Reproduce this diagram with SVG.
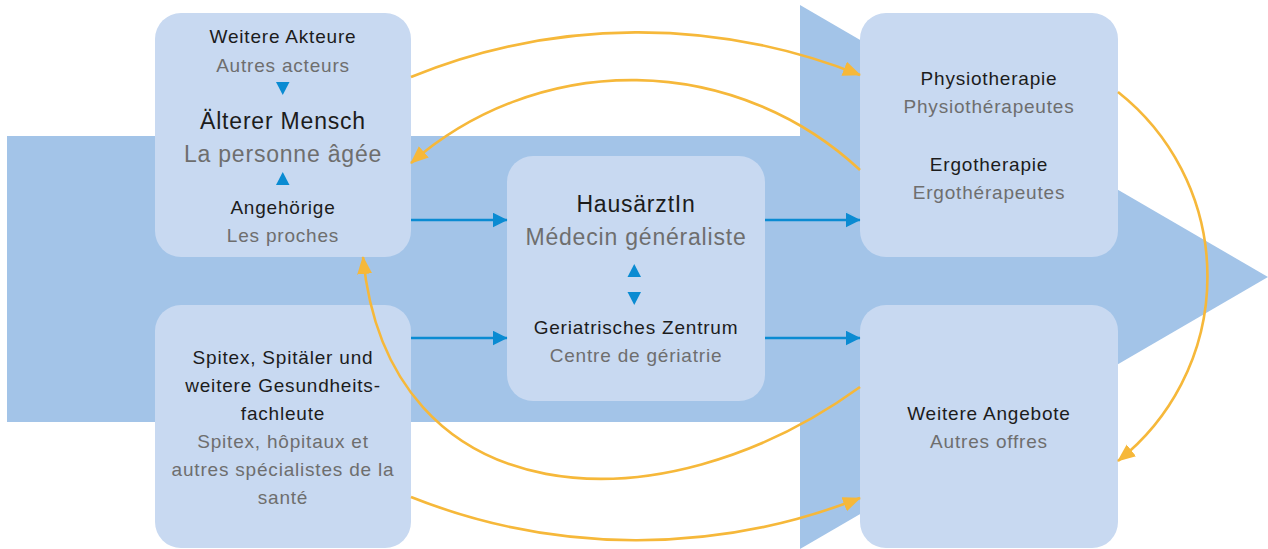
<svg xmlns="http://www.w3.org/2000/svg" width="1268" height="549" viewBox="0 0 1268 549">
<style>
.node{fill:#c8d9f1}
.band{fill:#a3c4e8}
text{font-family:"Liberation Sans",Arial,sans-serif;text-anchor:middle;letter-spacing:0.8px}
.de{fill:#1c1c1c;font-size:19px}
.fr{fill:#6e6e6e;font-size:19px}
.deL{fill:#1c1c1c;font-size:23px}
.frL{fill:#6e6e6e;font-size:23px}
.tri{fill:#0a8bd2}
.blue{stroke:#0a8bd2;stroke-width:2.6;fill:none;marker-end:url(#ab)}
.orange{stroke:#f6b83a;stroke-width:2.6;fill:none;marker-end:url(#ao)}
</style>
<defs>
<marker id="ab" markerUnits="userSpaceOnUse" markerWidth="16" markerHeight="16" refX="14.5" refY="7.5" orient="auto"><path d="M0,0 L15,7.5 L0,15 z" fill="#0a8bd2"/></marker>
<marker id="ao" markerUnits="userSpaceOnUse" markerWidth="19" markerHeight="16" refX="17" refY="7.5" orient="auto"><path d="M0,0 L18,7.5 L0,15 z" fill="#f6b83a"/></marker>
</defs>
<g id="background-arrow">
<rect class="band" x="7" y="136" width="800" height="286"/>
<polygon class="band" points="800,5 1268,277 800,549"/>
</g>
<g id="node-aelterer-mensch">
<rect class="node" x="155" y="13" width="256" height="244" rx="26"/>
<text class="de" x="283" y="43">Weitere Akteure</text>
<text class="fr" x="283" y="72">Autres acteurs</text>
<polygon class="tri" points="276,82 289.5,82 282.75,95"/>
<text class="deL" x="283" y="129">Älterer Mensch</text>
<text class="frL" x="283" y="162">La personne âgée</text>
<polygon class="tri" points="276,185 289.5,185 282.75,172"/>
<text class="de" x="283" y="214">Angehörige</text>
<text class="fr" x="283" y="242">Les proches</text>
</g>
<g id="node-spitex">
<rect class="node" x="155" y="305" width="256" height="243" rx="26"/>
<text class="de" x="283" y="364">Spitex, Spitäler und</text>
<text class="de" x="283" y="392">weitere Gesundheits-</text>
<text class="de" x="283" y="420">fachleute</text>
<text class="fr" x="283" y="448">Spitex, hôpitaux et</text>
<text class="fr" x="283" y="476">autres spécialistes de la</text>
<text class="fr" x="283" y="504">santé</text>
</g>
<g id="node-hausarzt">
<rect class="node" x="507" y="156" width="258" height="245" rx="26"/>
<text class="deL" x="636" y="212">HausärztIn</text>
<text class="frL" x="636" y="245">Médecin généraliste</text>
<polygon class="tri" points="627.5,277 641,277 634.25,264"/>
<polygon class="tri" points="627.5,292 641,292 634.25,305"/>
<text class="de" x="636" y="334">Geriatrisches Zentrum</text>
<text class="fr" x="636" y="362">Centre de gériatrie</text>
</g>
<g id="node-therapie">
<rect class="node" x="860" y="13" width="258" height="244" rx="26"/>
<text class="de" x="989" y="85">Physiotherapie</text>
<text class="fr" x="989" y="113">Physiothérapeutes</text>
<text class="de" x="989" y="171">Ergotherapie</text>
<text class="fr" x="989" y="199">Ergothérapeutes</text>
</g>
<g id="node-weitere-angebote">
<rect class="node" x="860" y="305" width="258" height="243" rx="26"/>
<text class="de" x="989" y="420">Weitere Angebote</text>
<text class="fr" x="989" y="448">Autres offres</text>
</g>
<g id="connectors">
<path class="blue" d="M411,220 L507,220"/>
<path class="blue" d="M411,338 L507,338"/>
<path class="blue" d="M765,220 L860,220"/>
<path class="blue" d="M765,338 L860,338"/>
<path class="orange" d="M411,77 A600,600 0 0 1 860,75"/>
<path class="orange" d="M860,170 A335,335 0 0 0 411,163"/>
<path class="orange" d="M1118,92 A235,235 0 0 1 1118,461"/>
<path class="orange" d="M860,387 C660,532 388,517 363,257"/>
<path class="orange" d="M411,497 A611,611 0 0 0 860,498"/>
</g>
</svg>
